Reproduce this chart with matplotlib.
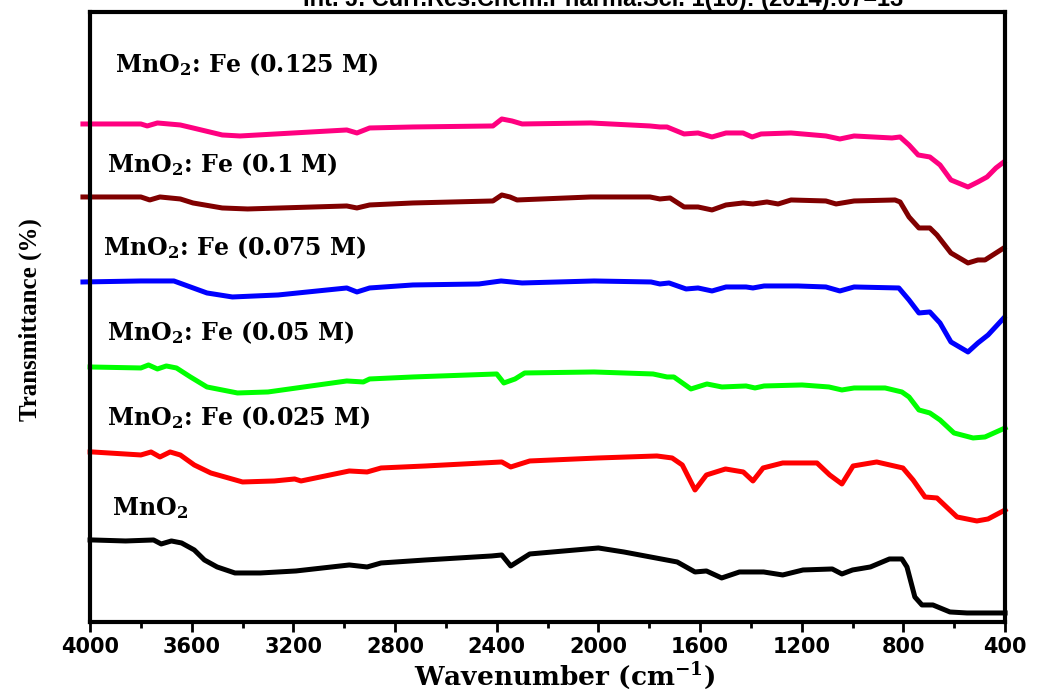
import numpy as np
import matplotlib
matplotlib.use("Agg")
import matplotlib.pyplot as plt
from matplotlib.ticker import MultipleLocator

plt.rcParams['mathtext.default'] = 'regular'

# FTIR spectra, transmittance in arbitrary (offset) units
wn_mno2 = [4000, 3990, 3860, 3750, 3720, 3680, 3640, 3590, 3550, 3500, 3430, 3330, 3190, 2980, 2910,
           2855, 2680, 2420, 2380, 2345, 2270, 2000, 1900, 1690, 1620, 1575, 1515, 1445, 1350, 1275,
           1195, 1080, 1042, 1000, 930, 855, 806, 786, 755, 727, 684, 617, 550, 400]
t_mno2 = [82, 82, 81, 82, 78, 81, 79, 72, 62, 55, 49, 49, 51, 57, 55,
          59, 62, 66, 67, 56, 68, 74, 70, 60, 50, 51, 44, 50, 50, 47,
          52, 53, 48, 52, 55, 63, 63, 55, 25, 17, 17, 10, 9, 9]

wn_fe025 = [4000, 3990, 3800, 3760, 3725, 3685, 3645, 3590, 3525, 3400, 3275, 3195, 3170, 2980, 2910,
            2855, 2680, 2380, 2345, 2270, 2000, 1770, 1710, 1670, 1620, 1575, 1500, 1430, 1392, 1352,
            1275, 1140, 1090, 1042, 998, 905, 802, 762, 715, 668, 589, 511, 467, 400]
t_fe025 = [170, 170, 167, 170, 165, 170, 167, 157, 149, 140, 141, 143, 141, 151, 150,
           154, 156, 160, 155, 161, 164, 166, 164, 157, 132, 147, 153, 150, 141, 154,
           159, 159, 147, 138, 156, 160, 154, 142, 125, 124, 105, 101, 103, 112]

wn_fe05 = [4000, 3800, 3770, 3735, 3700, 3660, 3605, 3540, 3420, 3300, 2990, 2925, 2900, 2730, 2400,
           2372, 2328, 2290, 2017, 1785, 1730, 1703, 1636, 1573, 1514, 1419, 1384, 1348, 1199, 1093,
           1042, 994, 872, 806, 778, 739, 696, 656, 601, 526, 479, 400]
t_fe05 = [255, 254, 257, 253, 256, 254, 245, 235, 229, 230, 241, 240, 243, 245, 248,
          239, 243, 249, 250, 248, 245, 245, 233, 238, 235, 236, 234, 236, 237, 235,
          232, 234, 234, 230, 225, 212, 209, 202, 189, 184, 185, 194]

wn_fe075 = [4028, 3800, 3670, 3605, 3540, 3440, 3260, 2990, 2950, 2900, 2730, 2470, 2383, 2300, 2017,
            1793, 1758, 1722, 1655, 1608, 1553, 1498, 1419, 1392, 1348, 1215, 1105, 1050, 994, 818,
            778, 739, 696, 656, 613, 546, 507, 467, 405]
t_fe075 = [340, 341, 341, 335, 329, 325, 327, 334, 330, 334, 337, 338, 341, 339, 341,
           340, 338, 339, 333, 334, 331, 335, 335, 334, 336, 336, 335, 331, 335, 334,
           322, 309, 310, 299, 280, 270, 279, 287, 304]

wn_fe1 = [4028, 3800, 3765, 3725, 3645, 3595, 3480, 3380, 2990, 2950, 2900, 2730, 2415, 2380, 2348,
          2320, 2030, 1797, 1758, 1718, 1663, 1608, 1553, 1498, 1431, 1392, 1337, 1293, 1242, 1105,
          1065, 994, 833, 813, 778, 739, 696, 668, 613, 546, 507, 479, 405]
t_fe1 = [425, 425, 422, 425, 423, 419, 414, 413, 416, 414, 417, 419, 421, 427, 425,
         422, 425, 425, 423, 424, 415, 415, 412, 417, 419, 418, 420, 418, 422, 421,
         418, 421, 422, 420, 405, 394, 394, 387, 369, 359, 362, 362, 374]

wn_fe125 = [4028, 3800, 3775, 3735, 3645, 3595, 3480, 3410, 2990, 2950, 2900, 2730, 2415, 2380, 2340,
            2300, 2030, 1797, 1758, 1730, 1663, 1608, 1553, 1498, 1431, 1395, 1360, 1242, 1105, 1050,
            994, 845, 813, 778, 742, 696, 656, 613, 546, 507, 471, 436, 405]
t_fe125 = [498, 498, 496, 499, 497, 494, 487, 486, 492, 489, 494, 495, 496, 503, 501,
           498, 499, 496, 495, 495, 488, 489, 485, 489, 489, 485, 488, 489, 486, 483,
           486, 484, 485, 477, 467, 465, 457, 442, 435, 440, 445, 454, 460]

series = [
    (wn_mno2, t_mno2, 'black', 'MnO$_2$', 3913, 107),
    (wn_fe025, t_fe025, '#ff0000', 'MnO$_2$: Fe (0.025 M)', 3933, 197),
    (wn_fe05, t_fe05, '#00ff00', 'MnO$_2$: Fe (0.05 M)', 3933, 282),
    (wn_fe075, t_fe075, '#0000ff', 'MnO$_2$: Fe (0.075 M)', 3949, 367),
    (wn_fe1, t_fe1, '#800000', 'MnO$_2$: Fe (0.1 M)', 3933, 450),
    (wn_fe125, t_fe125, '#ff0080', 'MnO$_2$: Fe (0.125 M)', 3902, 550),
]

fig = plt.figure(figsize=(10.41, 6.92), dpi=100)
ax = fig.add_axes([0.0865, 0.1012, 0.879, 0.8815])

for wn, t, color, label, lx, ly in series:
    ax.plot(wn, t, color=color, lw=3.6, solid_joinstyle='round', clip_on=False, zorder=3)
    ax.text(lx, ly, label, fontsize=17, fontweight='bold', family='DejaVu Serif',
            ha='left', va='baseline')

ax.set_xlim(4000, 400)
ax.set_ylim(0, 610)
ax.xaxis.set_major_locator(MultipleLocator(400))
ax.xaxis.set_minor_locator(MultipleLocator(200))
ax.set_yticks([])
ax.tick_params(axis='x', which='major', direction='out', length=7, width=2, pad=4)
ax.tick_params(axis='x', which='minor', direction='out', length=4, width=2)
for lab in ax.get_xticklabels():
    lab.set_fontsize(15)
    lab.set_fontweight('bold')
for sp in ax.spines.values():
    sp.set_linewidth(3)
    sp.set_zorder(4)

ax.set_xlabel('Wavenumber (cm$^{-1}$)', fontsize=19, fontweight='bold',
              family='DejaVu Serif')
ax.xaxis.set_label_coords(0.519, -0.063)
ax.set_ylabel('Transmittance (%)', fontsize=18, fontweight='bold',
              family='Liberation Serif')
ax.yaxis.set_label_coords(-0.052, 0.495)

# journal header, cut by the top edge as in the source image
fig.text(0.579, 1 - 6 / 692, 'Int. J. Curr.Res.Chem.Pharma.Sci. 1(10): (2014):07\u201313',
         fontsize=17, fontweight='bold', family='Liberation Sans', ha='center', va='baseline')

fig.savefig('out.png', dpi=100)
plt.close(fig)
